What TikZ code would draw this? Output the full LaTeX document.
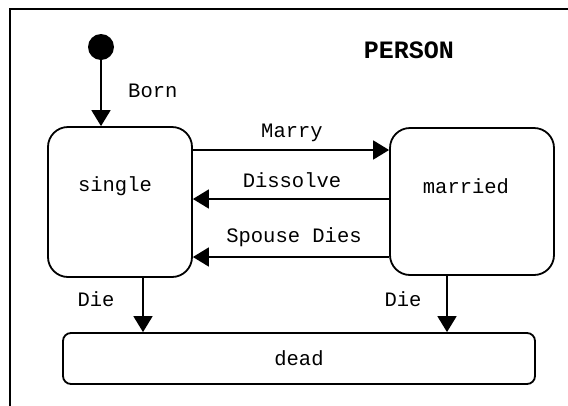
\documentclass[tikz,border=0pt]{standalone}
\usepackage{fontspec}
\setmainfont{Liberation Mono}
\usetikzlibrary{arrows.meta}
\begin{document}
\begin{tikzpicture}[x=1pt,y=-1pt,
  every node/.style={font=\fontsize{20.5}{24}\selectfont},
  statebox/.style={draw,line width=1.8pt,rounded corners=20pt,inner sep=0pt},
  deadbox/.style={draw,line width=1.8pt,rounded corners=8pt,inner sep=0pt},
  conn/.style={line width=1.8pt,-{Triangle[length=16pt,width=19pt]}},
  lbl/.style={inner sep=0pt}]
\useasboundingbox (0,0) rectangle (568,405);
\begin{scope}
\clip (0,0) rectangle (568,405);
\draw[line width=2pt] (10,9) rectangle (620,460);
\end{scope}
% nodes
\node[circle,fill=black,minimum size=26pt,inner sep=0pt] (init) at (101,47) {};
\node[statebox,minimum width=144pt,minimum height=150pt] (single) at (120,202) {};
\node[statebox,minimum width=164pt,minimum height=147pt] (married) at (472,201.5) {};
\node[deadbox,minimum width=472pt,minimum height=51pt] (dead) at (299,358.5) {};
\node[lbl] (singletxt) at (115,186) {single};
\node[lbl] (marriedtxt) at (466,186) {married};
\node[lbl] (deadtxt) at (299,358) {dead};
\node[lbl,font=\fontsize{25}{28}\selectfont\bfseries] (title) at (409,50) {PERSON};
% row coordinates
\coordinate (rmarry) at (0,150);
\coordinate (rdiss) at (0,199);
\coordinate (rspouse) at (0,257);
\coordinate (cdl) at (143,0);
\coordinate (cdr) at (447,0);
% connectors
\draw[conn] (init) -- (init |- single.north);
\draw[conn] (single.east |- rmarry) -- (married.west |- rmarry);
\draw[conn] (married.west |- rdiss) -- (single.east |- rdiss);
\draw[conn] (married.west |- rspouse) -- (single.east |- rspouse);
\draw[conn] (cdl |- single.south) -- (cdl |- dead.north);
\draw[conn] (cdr |- married.south) -- (cdr |- dead.north);
% labels
\node[lbl,anchor=west] (lborn) at (128,91) {Born};
\node[lbl] (lmarry) at (292,133) {Marry};
\node[lbl] (ldiss) at (292,180) {Dissolve};
\node[lbl] (lspouse) at (294,237) {Spouse Dies};
\node[lbl] (ldie1) at (96,299) {Die};
\node[lbl] (ldie2) at (403,299) {Die};
\end{tikzpicture}
\end{document}
